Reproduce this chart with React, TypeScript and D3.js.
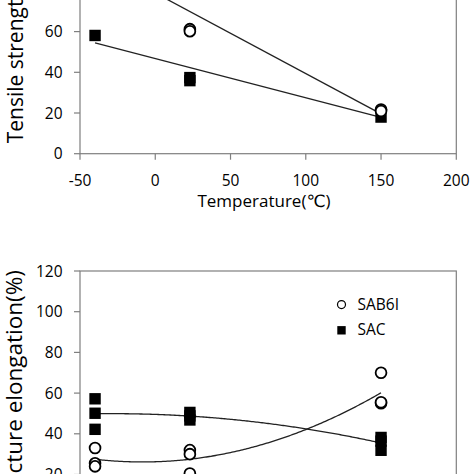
import React from 'react';
import * as d3 from 'd3';

// Axis ticks
const xTicks = [-50, 0, 50, 100, 150, 200];
const yTicks = [0, 20, 40, 60, 80, 100, 120];

// Top panel: tensile strength vs temperature
const tsSAB6ITemp = [-40, 23, 23, 150, 150];
const tsSAB6IVal = [100, 61.2, 60.2, 21.7, 21];
const tsSACTemp = [-40, 23, 23, 150];
const tsSACVal = [58.1, 37.4, 35.9, 18];
// Linear trend lines (values at the end temperatures)
const tsFitTemp = [-40, 150];
const tsFitSAB6I = [94.8, 19.6];
const tsFitSAC = [54.5, 17.9];

// Bottom panel: fracture elongation vs temperature
const elTemp = [-40, -40, -40, 23, 23, 23, 150, 150, 150];
const elSAB6IVal = [33, 25.5, 24, 32, 30, 20.5, 70, 55, 55.5];
const elSACVal = [57.2, 50.1, 42.2, 50.5, 48.8, 46.8, 38.2, 36.4, 31.9];

const legendLabels = ['SAB6I', 'SAC'];

function quadFit(xs: number[], ys: number[]) {
  // least squares y = a + b x + c x^2
  const s = [0, 0, 0, 0, 0];
  const t = [0, 0, 0];
  xs.forEach((x, i) => {
    let p = 1;
    for (let k = 0; k < 5; k++) { s[k] += p; p *= x; }
    t[0] += ys[i]; t[1] += ys[i] * x; t[2] += ys[i] * x * x;
  });
  const M = [
    [s[0], s[1], s[2], t[0]],
    [s[1], s[2], s[3], t[1]],
    [s[2], s[3], s[4], t[2]],
  ];
  for (let i = 0; i < 3; i++) {
    let piv = i;
    for (let r = i + 1; r < 3; r++) if (Math.abs(M[r][i]) > Math.abs(M[piv][i])) piv = r;
    [M[i], M[piv]] = [M[piv], M[i]];
    for (let r = 0; r < 3; r++) {
      if (r === i) continue;
      const f = M[r][i] / M[i][i];
      for (let c = i; c < 4; c++) M[r][c] -= f * M[i][c];
    }
  }
  const a = M[0][3] / M[0][0], b = M[1][3] / M[1][1], c = M[2][3] / M[2][2];
  return (x: number) => a + b * x + c * x * x;
}

const FONT = "'Open Sans', 'DejaVu Sans', sans-serif";
const AXIS = '#7f7f7f';
const TXT = '#000';

export default function App() {
  const x = d3.scaleLinear().domain([-50, 200]).range([80, 456.3]);
  const yTop = d3.scaleLinear().domain([0, 120]).range([153.7, 153.7 - 6 * 40.7]);
  const yBot = d3.scaleLinear().domain([0, 120]).range([515.2, 271]);

  const fitSAB6I = quadFit(elTemp, elSAB6IVal);
  const fitSAC = quadFit(elTemp, elSACVal);
  const ext = d3.extent(elTemp) as [number, number];
  const samples = d3.range(ext[0], ext[1] + 0.001, 1);

  const lineTop = d3.line<[number, number]>().x((d) => x(d[0])).y((d) => yTop(d[1]));
  const lineBot = d3.line<[number, number]>().x((d) => x(d[0])).y((d) => yBot(d[1]));

  const r = 5.4;
  const sq = 11.4;

  const panel = (y: d3.ScaleLinear<number, number>, showXLabels: boolean) => {
    const [y0, y1] = y.range();
    return (
      <g>
        <rect x={x(-50)} y={y1} width={x(200) - x(-50)} height={y0 - y1} fill="none" stroke={AXIS} strokeWidth={1.2} />
        {yTicks.map((t) => (
          <g key={'y' + t}>
            <line x1={x(-50) - 6} x2={x(-50)} y1={y(t)} y2={y(t)} stroke={AXIS} strokeWidth={1.2} />
            <text x={62.5} y={y(t)} dy="0.36em" textAnchor="end" fontSize={15.5} fontFamily={FONT} fill={TXT}>{t}</text>
          </g>
        ))}
        {xTicks.map((t) => (
          <g key={'x' + t}>
            <line x1={x(t)} x2={x(t)} y1={y0} y2={y0 + 6} stroke={AXIS} strokeWidth={1.2} />
            {showXLabels && (
              <text x={x(t)} y={y0 + 32.3} textAnchor="middle" fontSize={15.5} fontFamily={FONT} fill={TXT}>{t}</text>
            )}
          </g>
        ))}
      </g>
    );
  };

  return (
    <svg width={474} height={474} style={{ position: 'absolute', left: 0, top: 0, background: '#fff' }}>
      <rect width={474} height={474} fill="#fff" />
      {/* Top panel */}
      {panel(yTop, true)}
      <path d={lineTop(tsFitTemp.map((t, i) => [t, tsFitSAB6I[i]]))!} fill="none" stroke="#222" strokeWidth={1.3} />
      <path d={lineTop(tsFitTemp.map((t, i) => [t, tsFitSAC[i]]))!} fill="none" stroke="#222" strokeWidth={1.3} />
      {tsSACTemp.map((t, i) => (
        <rect key={'ts' + i} x={x(t) - sq / 2} y={yTop(tsSACVal[i]) - sq / 2} width={sq} height={sq} fill="#000" />
      ))}
      {tsSAB6ITemp.map((t, i) => (
        <circle key={'tc' + i} cx={x(t)} cy={yTop(tsSAB6IVal[i])} r={r} fill="#fff" stroke="#000" strokeWidth={1.8} />
      ))}
      <text x={264} y={206.5} textAnchor="middle" fontSize={17} fontFamily={FONT} fill={TXT}>Temperature(℃)</text>
      <text transform="translate(22.5,143.3) rotate(-90)" textAnchor="start" fontSize={21} fontFamily={FONT} fill={TXT}>Tensile strength(MPa)</text>

      {/* Bottom panel */}
      {panel(yBot, false)}
      <path d={lineBot(samples.map((t) => [t, fitSAC(t)]))!} fill="none" stroke="#222" strokeWidth={1.3} />
      <path d={lineBot(samples.map((t) => [t, fitSAB6I(t)]))!} fill="none" stroke="#222" strokeWidth={1.3} />
      {elTemp.map((t, i) => (
        <rect key={'es' + i} x={x(t) - sq / 2} y={yBot(elSACVal[i]) - sq / 2} width={sq} height={sq} fill="#000" />
      ))}
      {elTemp.map((t, i) => (
        <circle key={'ec' + i} cx={x(t)} cy={yBot(elSAB6IVal[i])} r={r} fill="#fff" stroke="#000" strokeWidth={1.8} />
      ))}
      <text transform="translate(22,270) rotate(-90)" textAnchor="end" fontSize={22.5} fontFamily={FONT} fill={TXT}>Fracture elongation(%)</text>

      {/* Legend */}
      <circle cx={341.5} cy={304.6} r={4} fill="#fff" stroke="#000" strokeWidth={1.2} />
      <text x={357.5} y={309.5} fontSize={15.5} fontFamily={FONT} fill={TXT}>{legendLabels[0]}</text>
      <rect x={341.5 - 4.2} y={330.3 - 4.2} width={8.4} height={8.4} fill="#000" />
      <text x={357.5} y={335.3} fontSize={15.5} fontFamily={FONT} fill={TXT}>{legendLabels[1]}</text>
    </svg>
  );
}
